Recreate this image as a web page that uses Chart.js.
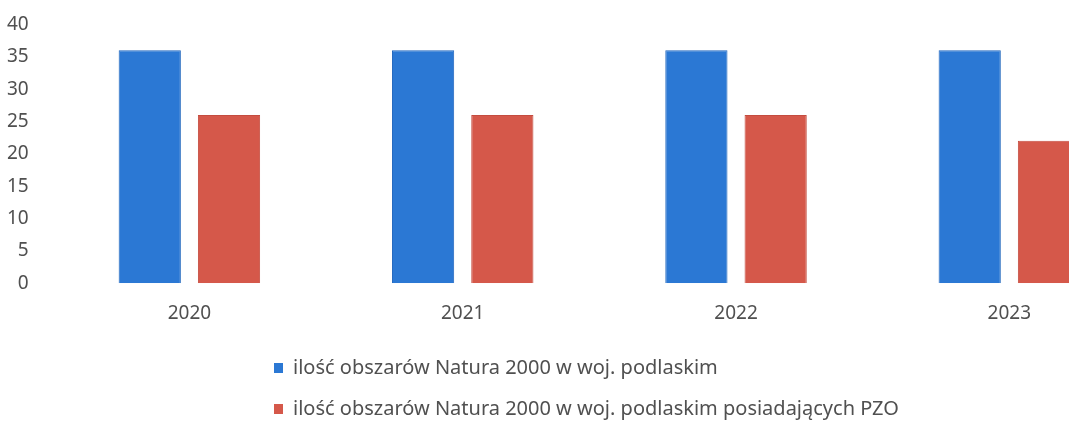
<!DOCTYPE html>
<html lang="pl">
<head>
<meta charset="utf-8">
<script src="https://cdn.jsdelivr.net/npm/chart.js@4"></script>
<style>
    html, body { margin: 0; padding: 0; background: #fff; overflow: hidden; }
    #wrap { position: relative; width: 1069px; height: 421px; overflow: hidden; }
    #chart { position: absolute; left: 0; top: -11px; }
    .legend-row { position: absolute; left: 274px; font-family: 'Noto Sans', sans-serif; font-size: 20px; color: #505050; white-space: nowrap; }
    .legend-row .box { display: inline-block; width: 9px; height: 10px; margin-right: 10px; vertical-align: 1px; }
</style>
</head>
<body>
<div id="wrap">
    <canvas id="chart" width="1160" height="432"></canvas>
    <div class="legend-row" id="leg0" style="top:353px"></div>
    <div class="legend-row" id="leg1" style="top:394px"></div>
</div>
<script>
const years = ['2020', '2021', '2022', '2023'];
const seriesNames = [
    'ilość obszarów Natura 2000 w woj. podlaskim',
    'ilość obszarów Natura 2000 w woj. podlaskim posiadających PZO'
];
const allAreas = [36, 36, 36, 36];
const withPzo = [26, 26, 26, 22];
const yTicks = [0, 5, 10, 15, 20, 25, 30, 35, 40];

const blue = '#2b78d4';
const red = '#d5584a';

const ctx = document.getElementById('chart').getContext('2d');
const labelFont = { family: "'Noto Sans', sans-serif", size: 19 };

new Chart(ctx, {
    type: 'bar',
    data: {
        labels: years,
        datasets: [
            {
                label: seriesNames[0],
                data: allAreas,
                backgroundColor: blue,
                borderColor: '#1f66bd',
                borderWidth: 1,
                categoryPercentage: 0.58,
                barPercentage: 0.785
            },
            {
                label: seriesNames[1],
                data: withPzo,
                backgroundColor: red,
                borderColor: '#c44c3f',
                borderWidth: 1,
                categoryPercentage: 0.58,
                barPercentage: 0.785
            }
        ]
    },
    options: {
        responsive: false,
        animation: false,
        layout: { padding: { top: 13, left: -17, right: 14, bottom: 77 } },
        plugins: {
            legend: { display: false },
            tooltip: { enabled: false }
        },
        scales: {
            x: {
                grid: { display: false, drawTicks: false },
                border: { display: false },
                ticks: { color: '#505050', font: labelFont, padding: 19 }
            },
            y: {
                min: 0,
                max: 40,
                afterBuildTicks: (axis) => { axis.ticks = yTicks.map(v => ({ value: v })); },
                grid: { display: false, drawTicks: false },
                border: { display: false },
                ticks: { color: '#505050', font: labelFont, padding: 24 }
            }
        }
    }
});

// legenda jak w Excelu: wpisy wyrównane do lewej, jeden pod drugim
[blue, red].forEach((c, i) => {
    const el = document.getElementById('leg' + i);
    el.innerHTML = `<span class="box" style="background:${c}"></span>${seriesNames[i]}`;
});
</script>
</body>
</html>
